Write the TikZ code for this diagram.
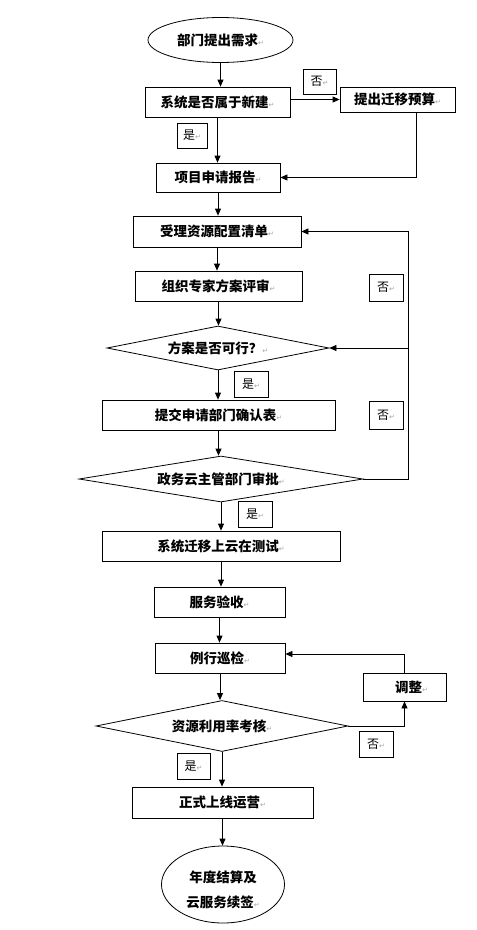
\documentclass[tikz,border=0pt]{standalone}
\usepackage{fontspec}
\setmainfont{Noto Sans CJK SC}
\newfontfamily\dvs{DejaVu Sans}
\usetikzlibrary{shapes.geometric,arrows.meta}
\newcommand\ret{{\mdseries\dvs\fontsize{7}{7}\selectfont\textcolor{black!35}{↵}}}
\tikzset{
  box/.style={draw, line width=0.8pt, inner sep=0pt, align=center,
    font=\bfseries\fontsize{13.5}{15}\selectfont},
  oval/.style={box, ellipse},
  dia/.style={box, diamond},
  lab/.style={draw, line width=0.6pt, inner sep=0pt,
    font=\fontsize{12}{14}\selectfont},
  arr/.style={-{Triangle[length=7pt,width=6pt]}, line width=0.8pt},
  ln/.style={line width=0.8pt}
}
\begin{document}
\begin{tikzpicture}[x=1pt,y=-1pt]
\useasboundingbox (0,0) rectangle (477,930);
\fill[white] (0,0) rectangle (477,930);
% main nodes
\node[oval, minimum width=145pt, minimum height=45pt] (e1) at (220.5,40) {部门提出需求\ret};
\node[box, minimum width=145pt, minimum height=30pt] (b2) at (217.5,102) {系统是否属于新建\ret};
\node[box, minimum width=115pt, minimum height=25pt] (b4) at (397.5,99.5) {提出迁移预算\ret};
\node[box, minimum width=124pt, minimum height=29pt] (b6) at (218,177.5) {项目申请报告\ret};
\node[box, minimum width=168pt, minimum height=31pt] (b7) at (217,231.5) {受理资源配置清单\ret};
\node[box, minimum width=167pt, minimum height=30pt] (b8) at (218.5,286) {组织专家方案评审\ret};
\node[dia, aspect=5, minimum width=222pt, minimum height=44pt] (d9) at (218,348) {方案是否可行？\ret};
\node[box, minimum width=233pt, minimum height=30pt] (b12) at (218.5,415) {提交申请部门确认表\ret};
\node[dia, aspect=6, minimum width=284pt, minimum height=46pt] (d14) at (221,479) {政务云主管部门审批\ret};
\node[box, minimum width=238pt, minimum height=30pt] (b16) at (221,546) {系统迁移上云在测试\ret};
\node[box, minimum width=131pt, minimum height=30pt] (b17) at (219.5,602) {服务验收\ret};
\node[box, minimum width=130pt, minimum height=30pt] (b18) at (220,658) {例行巡检\ret};
\node[box, minimum width=83pt, minimum height=28pt] (b19) at (404.5,687) {\hspace*{14pt}调整\ret};
\node[dia, aspect=5, minimum width=252pt, minimum height=51pt] (d20) at (222,726) {资源利用率考核\ret};
\node[box, minimum width=181pt, minimum height=31pt] (b23) at (222.5,802.5) {正式上线运营\ret};
\node[oval, minimum width=123pt, minimum height=77pt] (e24) at (223,884.5) {};
\node[font=\bfseries\fontsize{13.5}{15}\selectfont, align=center, inner sep=0pt] (t24) at (223,890) {年度结算及\\[10pt]云服务续签\ret};
% yes/no labels
\node[lab, minimum width=33pt, minimum height=25pt] (l1) at (319.5,81.5) {否\ret};
\node[lab, minimum width=30pt, minimum height=25pt] (l2) at (192,135.5) {是\ret};
\node[lab, minimum width=34pt, minimum height=27pt] (l3) at (386,287.5) {否\ret};
\node[lab, minimum width=34pt, minimum height=26pt] (l4) at (251,384) {是\ret};
\node[lab, minimum width=34pt, minimum height=28pt] (l5) at (386,415) {否\ret};
\node[lab, minimum width=34pt, minimum height=26pt] (l6) at (255,514) {是\ret};
\node[lab, minimum width=34pt, minimum height=26pt] (l7) at (376,744) {否\ret};
\node[lab, minimum width=33pt, minimum height=26pt] (l8) at (193.5,766) {是\ret};
% coordinates
\coordinate (loop) at (408,479);
\coordinate (bud) at (416,112);
% connectors
\draw[arr] (e1.south) -- (e1.south |- b2.north);
\draw[arr] (b2.east |- b4.west) -- (b4.west);
\draw[arr] (b2.south) -- (b2.south |- b6.north);
\draw[arr] (bud) |- (b6.east);
\draw[arr] (b6.south) -- (b6.south |- b7.north);
\draw[arr] (b7.south) -- (b7.south |- b8.north);
\draw[arr] (b8.south) -- (b8.south |- d9.north);
\draw[arr] (d9.south) -- (d9.south |- b12.north);
\draw[arr] (b12.south) -- (b12.south |- d14.north);
\draw[arr] (d14.east) -- (loop) |- (b7.east);
\draw[arr] (loop |- d9.east) -- (d9.east);
\draw[arr] (d14.south) -- (d14.south |- b16.north);
\draw[arr] (b16.south) -- (b16.south |- b17.north);
\draw[arr] (b17.south) -- (b17.south |- b18.north);
\draw[arr] (b18.south) -- (b18.south |- d20.north);
\draw[arr] (d20.east) -| (b19.south);
\draw[arr] (b19.north) |- ([yshift=4pt]b18.east);
\draw[arr] (d20.south) -- (d20.south |- b23.north);
\draw[arr] (b23.south) -- (b23.south |- e24.north);
\end{tikzpicture}
\end{document}
